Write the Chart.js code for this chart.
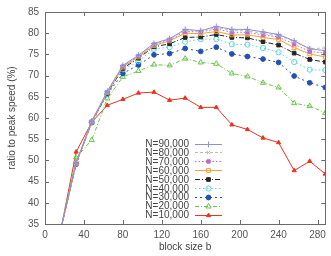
<!DOCTYPE html>
<html>
<head>
<meta charset="utf-8">
<script src="https://cdn.jsdelivr.net/npm/chart.js@4/dist/chart.umd.min.js"></script>
<style>
  html, body { margin: 0; padding: 0; background: #fff; }
  #wrap { width: 331px; height: 256px; }
</style>
</head>
<body>
<div id="wrap"><canvas id="chart" width="331" height="256"></canvas></div>
<script>
// block sizes on the x axis
const blockSizes = [16, 32, 48, 64, 80, 96, 112, 128, 144, 160, 176, 192, 208, 224, 240, 256, 272, 288];
const xTicks = [0, 40, 80, 120, 160, 200, 240, 280];
const yTicks = [35, 40, 45, 50, 55, 60, 65, 70, 75, 80, 85];

const seriesNames = ['N=90,000', 'N=80,000', 'N=70,000', 'N=60,000', 'N=50,000', 'N=40,000', 'N=30,000', 'N=20,000', 'N=10,000'];

const n90000 = [33.5, 49.5, 59.3, 66.3, 72.4, 74.8, 77.6, 78.7, 80.9, 80.6, 81.6, 80.9, 80.9, 80.3, 79.7, 78.2, 76.3, 75.9];
const n80000 = [33.5, 49.4, 59.2, 66.2, 72.3, 74.7, 77.4, 78.6, 80.7, 80.4, 81.3, 80.6, 80.6, 79.9, 79.5, 78.0, 76.4, 76.5];
const n70000 = [33.5, 49.3, 59.1, 66.1, 72.2, 74.6, 77.3, 78.4, 80.4, 80.3, 81.0, 80.2, 80.2, 79.6, 79.1, 77.4, 75.7, 75.3];
const n60000 = [33.5, 49.2, 59.0, 66.0, 72.0, 74.4, 77.1, 78.2, 80.0, 79.9, 80.4, 79.6, 79.6, 79.0, 78.5, 76.6, 75.1, 74.4];
const n50000 = [33.5, 49.1, 59.0, 65.9, 71.7, 74.1, 76.8, 77.5, 79.0, 79.1, 79.7, 79.0, 78.9, 78.0, 77.2, 75.3, 73.8, 73.2];
const n40000 = [33.5, 49.3, 59.0, 65.7, 71.5, 73.4, 76.3, 76.7, 78.0, 78.6, 78.6, 77.4, 77.3, 76.5, 75.5, 73.2, 71.4, 71.3];
const n30000 = [33.5, 49.3, 58.9, 65.6, 70.5, 72.5, 74.9, 75.2, 76.4, 75.7, 76.7, 75.1, 74.5, 73.9, 73.1, 69.9, 68.3, 67.2];
const n20000 = [33.5, 50.7, 54.8, 64.6, 69.7, 71.1, 72.6, 72.4, 74.0, 73.1, 72.8, 70.5, 69.8, 68.3, 67.2, 63.5, 62.8, 61.2];
const n10000 = [33.3, 52.0, 59.0, 63.0, 64.4, 65.9, 66.1, 64.2, 64.7, 62.5, 62.5, 58.4, 57.3, 55.3, 54.2, 47.6, 49.8, 46.8];

const allValues = [n90000, n80000, n70000, n60000, n50000, n40000, n30000, n20000, n10000];

// look of each series: colour, dash, marker
const looks = [
    { color: '#9090d4', dash: [],            point: 'cross',    fill: false, r: 3 },
    { color: '#bcbcbc', dash: [3, 2],        point: 'crossRot', fill: false, r: 2.6 },
    { color: '#c468c4', dash: [1.5, 2],      point: 'rect',     fill: true,  r: 2.4 },
    { color: '#f2a238', dash: [],            point: 'rect',     fill: false, r: 2.7 },
    { color: '#262626', dash: [5, 2, 1, 2],  point: 'rect',     fill: true,  r: 2.6 },
    { color: '#5cd4d4', dash: [1.5, 2.5],    point: 'circle',   fill: false, r: 2.6 },
    { color: '#2450b0', dash: [2, 3],        point: 'circle',   fill: true,  r: 2.4 },
    { color: '#6cc44c', dash: [4, 2, 1, 2],  point: 'triangle', fill: false, r: 3 },
    { color: '#e83424', dash: [],            point: 'triangle', fill: true,  r: 2.4 }
];

const datasets = allValues.map((vals, i) => {
    const lk = looks[i];
    return {
        label: seriesNames[i],
        data: vals.map((v, j) => ({ x: blockSizes[j], y: v })),
        borderColor: lk.color,
        borderWidth: 1,
        borderDash: lk.dash,
        pointStyle: lk.point,
        pointRadius: lk.r,
        pointBorderWidth: 1,
        pointBorderColor: lk.color,
        pointBackgroundColor: lk.fill ? lk.color : 'rgba(255,255,255,0)',
        tension: 0,
        fill: false
    };
});

const FONT = '"Liberation Sans", Arial, sans-serif';

// box border, inward ticks on all sides
const frame = {
    id: 'frame',
    afterDraw(chart) {
        const { ctx, chartArea: a, scales } = chart;
        ctx.save();
        ctx.strokeStyle = '#6a6a6a';
        ctx.lineWidth = 1;
        ctx.setLineDash([]);
        ctx.beginPath();
        xTicks.forEach(t => {
            const px = Math.round(scales.x.getPixelForValue(t)) + 0.5;
            ctx.moveTo(px, a.bottom); ctx.lineTo(px, a.bottom - 4);
            ctx.moveTo(px, a.top); ctx.lineTo(px, a.top + 4);
        });
        yTicks.forEach(t => {
            const py = Math.round(scales.y.getPixelForValue(t)) + 0.5;
            ctx.moveTo(a.left, py); ctx.lineTo(a.left + 4, py);
            ctx.moveTo(a.right, py); ctx.lineTo(a.right - 4, py);
        });
        ctx.stroke();
        ctx.strokeRect(Math.round(a.left) + 0.5, Math.round(a.top) + 0.5,
            Math.round(a.right - a.left), Math.round(a.bottom - a.top));
        ctx.restore();
    }
};

// gnuplot style key inside the plot
const key = {
    id: 'key',
    afterDatasetsDraw(chart) {
        const { ctx } = chart;
        const textRight = 189, lineStart = 195, lineEnd = 222, top = 143.5, step = 8.95;
        ctx.save();
        ctx.font = '10px ' + FONT;
        ctx.textAlign = 'right';
        ctx.textBaseline = 'middle';
        chart.data.datasets.forEach((ds, i) => {
            const y = top + i * step;
            ctx.fillStyle = '#444';
            ctx.fillText(ds.label, textRight, y + 0.5);
            ctx.strokeStyle = ds.borderColor;
            ctx.lineWidth = 1;
            ctx.setLineDash(ds.borderDash);
            ctx.beginPath();
            ctx.moveTo(lineStart, Math.round(y) + 0.5);
            ctx.lineTo(lineEnd, Math.round(y) + 0.5);
            ctx.stroke();
            ctx.setLineDash([]);
            ctx.fillStyle = ds.pointBackgroundColor;
            Chart.helpers.drawPoint(ctx, {
                pointStyle: ds.pointStyle,
                radius: ds.pointRadius,
                borderWidth: 1,
                rotation: 0
            }, (lineStart + lineEnd) / 2, Math.round(y) + 0.5);
        });
        ctx.restore();
    }
};

new Chart(document.getElementById('chart'), {
    type: 'line',
    data: { datasets },
    options: {
        responsive: false,
        animation: false,
        layout: { padding: { top: 6, right: 5, left: 0, bottom: 0 } },
        scales: {
            x: {
                type: 'linear',
                min: 0,
                max: 288,
                afterFit: s => { s.height = 32; },
                afterBuildTicks: s => { s.ticks = xTicks.map(v => ({ value: v })); },
                grid: { display: false, drawTicks: false },
                border: { display: false },
                ticks: { color: '#555', padding: 5, maxRotation: 0, font: { size: 10, family: FONT } },
                title: { display: true, text: 'block size b', color: '#444', padding: { top: 0, bottom: 3 }, font: { size: 10, family: FONT } }
            },
            y: {
                min: 35,
                max: 85,
                afterFit: s => { s.width = 45; },
                afterBuildTicks: s => { s.ticks = yTicks.map(v => ({ value: v })); },
                grid: { display: false, drawTicks: false },
                border: { display: false },
                ticks: { color: '#555', padding: 6, font: { size: 10, family: FONT } },
                title: { display: true, text: 'ratio to peak speed (%)', color: '#444', padding: { top: 6, bottom: 0 }, font: { size: 10, family: FONT } }
            }
        },
        plugins: {
            legend: { display: false },
            tooltip: { enabled: false }
        }
    },
    plugins: [frame, key]
});
</script>
</body>
</html>
